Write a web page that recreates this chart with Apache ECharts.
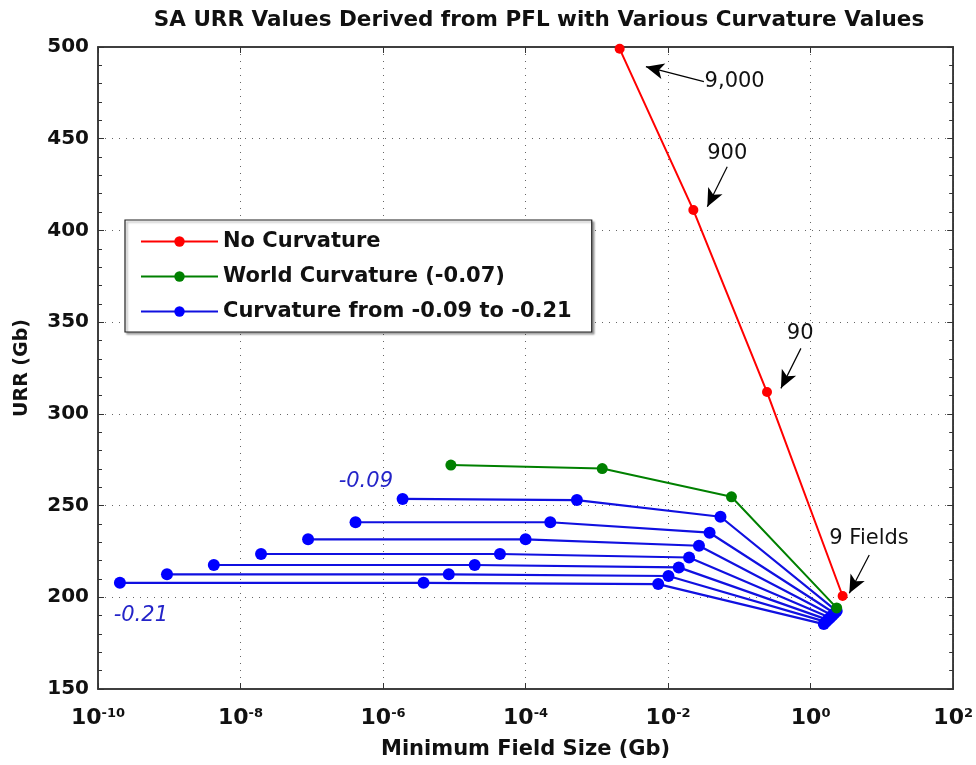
<!DOCTYPE html>
<html>
<head>
<meta charset="utf-8">
<script src="https://cdn.jsdelivr.net/npm/echarts@6/dist/echarts.min.js"></script>
<style>
html,body{margin:0;padding:0;background:#fff;}
#chart{width:976px;height:765px;}
</style>
</head>
<body>
<div id="chart"></div>
<script>
// ---------------- data ----------------
const titleText = 'SA URR Values Derived from PFL with Various Curvature Values';
const xName = 'Minimum Field Size (Gb)';
const yName = 'URR (Gb)';
const legendNames = ['No Curvature', 'World Curvature (-0.07)', 'Curvature from -0.09 to -0.21'];

const xMin = 1e-10, xMax = 1e2;
const yMin = 150, yMax = 500, yStep = 50;

// No curvature (red)
const redX = [2.09e-3, 0.0226, 0.244, 2.81];
const redY = [499, 411.1, 311.9, 200.7];

// World curvature (green)
const greenX = [8.95e-6, 1.19e-3, 0.0774, 2.32];
const greenY = [272.1, 270.2, 254.8, 194.2];

// Curvature -0.09 ... -0.21 (blue), 4 points per curve
const curvatures = ['-0.09', '-0.11', '-0.13', '-0.15', '-0.17', '-0.19', '-0.21'];
const blueX1 = [1.88e-6, 4.11e-7, 8.87e-8, 1.94e-8, 4.22e-9, 9.29e-10, 2.03e-10];
const blueY1 = [253.6, 240.9, 231.6, 223.6, 217.6, 212.5, 207.9];
const blueX2 = [5.25e-4, 2.22e-4, 1.0e-4, 4.37e-5, 1.93e-5, 8.36e-6, 3.70e-6];
const blueY2 = [253.0, 240.9, 231.6, 223.6, 217.6, 212.5, 207.9];
const blueX3 = [0.0543, 0.0382, 0.0271, 0.0197, 0.0141, 0.0101, 0.00726];
const blueY3 = [243.9, 235.2, 228.1, 221.7, 216.3, 211.6, 207.2];
const blueX4 = [2.32, 2.16, 2.02, 1.88, 1.75, 1.64, 1.53];
const blueY4 = [192.5, 191.3, 190.1, 188.9, 187.7, 186.6, 185.4];

// Annotations (data coordinates)
const annoText = ['9,000', '900', '90', '9 Fields'];
const annoPos = [[0.0859, 481.1], [0.0675, 442.0], [0.713, 343.9], [6.60, 232.2]];
const arrowFrom = [[0.0318, 481.1], [0.0675, 434.7], [0.730, 335.7], [6.64, 223.1]];
const arrowTo = [[4.88e-3, 489.3], [0.0355, 412.9], [0.383, 313.9], [3.49, 202.2]];
const curvLabelPos = [[5.73e-7, 262.9], [3.99e-10, 189.8]];
const curvLabelText = ['-0.09', '-0.21'];

// ---------------- chart ----------------
const FONT = 'DejaVu Sans';
const RED = '#ff0000', GREEN = '#008000', BLUE = '#0000ff';

function pairs(xs, ys) { return xs.map((x, i) => [x, ys[i]]); }

const series = [];
series.push({
  name: legendNames[0], type: 'line', data: pairs(redX, redY),
  symbol: 'circle', symbolSize: 10,
  lineStyle: { color: RED, width: 2 }, itemStyle: { color: RED },
  z: 5,
  markLine: {
    silent: true, animation: false,
    symbol: ['none', 'arrow'], symbolSize: [12, 18],
    lineStyle: { color: '#000', width: 1.2, type: 'solid' },
    label: { show: false },
    emphasis: { disabled: true },
    data: arrowFrom.map((p, i) => [{ coord: p }, { coord: arrowTo[i] }])
  },
  markPoint: {
    silent: true, animation: false,
    symbol: 'circle', symbolSize: 1, itemStyle: { color: 'rgba(0,0,0,0)' },
    label: { show: true, position: 'inside', formatter: p => p.name, color: '#111', fontFamily: FONT, fontSize: 21 },
    data: annoPos.map((p, i) => ({ coord: p, name: annoText[i] }))
  }
});
series.push({
  name: legendNames[1], type: 'line', data: pairs(greenX, greenY),
  symbol: 'circle', symbolSize: 11,
  lineStyle: { color: GREEN, width: 2 }, itemStyle: { color: GREEN },
  z: 4
});
curvatures.forEach((c, i) => {
  const s = {
    name: legendNames[2], type: 'line',
    data: [[blueX1[i], blueY1[i]], [blueX2[i], blueY2[i]], [blueX3[i], blueY3[i]], [blueX4[i], blueY4[i]]],
    symbol: 'circle', symbolSize: 12,
    lineStyle: { color: '#1010e0', width: 2.2 }, itemStyle: { color: BLUE },
    z: 3
  };
  if (i === 0) {
    s.markPoint = {
      silent: true, animation: false,
      symbol: 'circle', symbolSize: 1, itemStyle: { color: 'rgba(0,0,0,0)' },
      label: { show: true, position: 'inside', formatter: p => p.name, color: '#2424c8', fontFamily: FONT, fontStyle: 'italic', fontSize: 21 },
      data: curvLabelPos.map((p, k) => ({ coord: p, name: curvLabelText[k] }))
    };
  }
  series.push(s);
});

const axisLineStyle = { color: '#333', width: 1.5 };

const option = {
  animation: false,
  backgroundColor: '#fff',
  title: {
    text: titleText, left: 534, top: 4, textAlign: 'center',
    textStyle: { fontFamily: FONT, fontWeight: 'bold', fontSize: 21.5, color: '#111' }
  },
  grid: { left: 98, right: 19, top: 47, bottom: 76, show: true, borderColor: '#333', borderWidth: 1.5, backgroundColor: '#fff' },
  legend: {
    data: legendNames, orient: 'vertical', left: 125, top: 220,
    backgroundColor: '#fff', borderColor: '#222', borderWidth: 1.2, borderRadius: 0,
    shadowColor: 'rgba(0,0,0,0.35)', shadowOffsetX: 2, shadowOffsetY: 2, shadowBlur: 2,
    padding: [11, 20, 10, 15], itemGap: 14, itemWidth: 77, itemHeight: 13,
    textStyle: { fontFamily: FONT, fontWeight: 'bold', fontSize: 21, color: '#111' },
    selectedMode: false
  },
  xAxis: [{
    type: 'log', logBase: 10, min: xMin, max: xMax, interval: 2,
    name: xName, nameLocation: 'middle', nameGap: 50,
    nameTextStyle: { fontFamily: FONT, fontWeight: 'bold', fontSize: 21, color: '#111' },
    axisLine: { show: true, lineStyle: axisLineStyle },
    axisTick: { show: true, inside: true, length: 6, lineStyle: { color: '#333' } },
    minorTick: { show: false },
    splitLine: { show: true, lineStyle: { color: '#666', width: 1, type: [1, 6] } },
    axisLabel: {
      margin: 18,
      formatter: v => '{b|10}{s|' + Math.round(Math.log10(v)) + '}',
      rich: {
        b: { fontFamily: FONT, fontWeight: 'bold', fontSize: 22, color: '#111' },
        s: { fontFamily: FONT, fontWeight: 'bold', fontSize: 13, color: '#111', verticalAlign: 'top', padding: [0, 0, 6, 0] }
      }
    }
  }, {
    type: 'log', logBase: 10, min: xMin, max: xMax, interval: 2, position: 'top',
    axisLine: { show: true, lineStyle: axisLineStyle },
    axisTick: { show: true, inside: true, length: 6, lineStyle: { color: '#333' } },
    axisLabel: { show: false }, splitLine: { show: false }
  }],
  yAxis: [{
    type: 'value', min: yMin, max: yMax, interval: yStep,
    name: yName, nameLocation: 'middle', nameGap: 66, nameRotate: 90,
    nameTextStyle: { fontFamily: FONT, fontWeight: 'bold', fontSize: 19, color: '#111' },
    axisLine: { show: true, lineStyle: axisLineStyle },
    axisTick: { show: true, inside: true, length: 6, lineStyle: { color: '#333' } },
    minorTick: { show: true, splitNumber: 5, length: 4, lineStyle: { color: '#333' } },
    splitLine: { show: true, lineStyle: { color: '#666', width: 1, type: [1, 6] } },
    axisLabel: { margin: 9, fontFamily: FONT, fontWeight: 'bold', fontSize: 20, color: '#111' }
  }, {
    type: 'value', min: yMin, max: yMax, interval: yStep, position: 'right',
    axisLine: { show: true, lineStyle: axisLineStyle },
    axisTick: { show: true, inside: true, length: 6, lineStyle: { color: '#333' } },
    minorTick: { show: true, splitNumber: 5, length: 4, lineStyle: { color: '#333' } },
    axisLabel: { show: false }, splitLine: { show: false }
  }],
  series: series
};

const chart = echarts.init(document.getElementById('chart'), null, { renderer: 'canvas' });
chart.setOption(option);
</script>
</body>
</html>
